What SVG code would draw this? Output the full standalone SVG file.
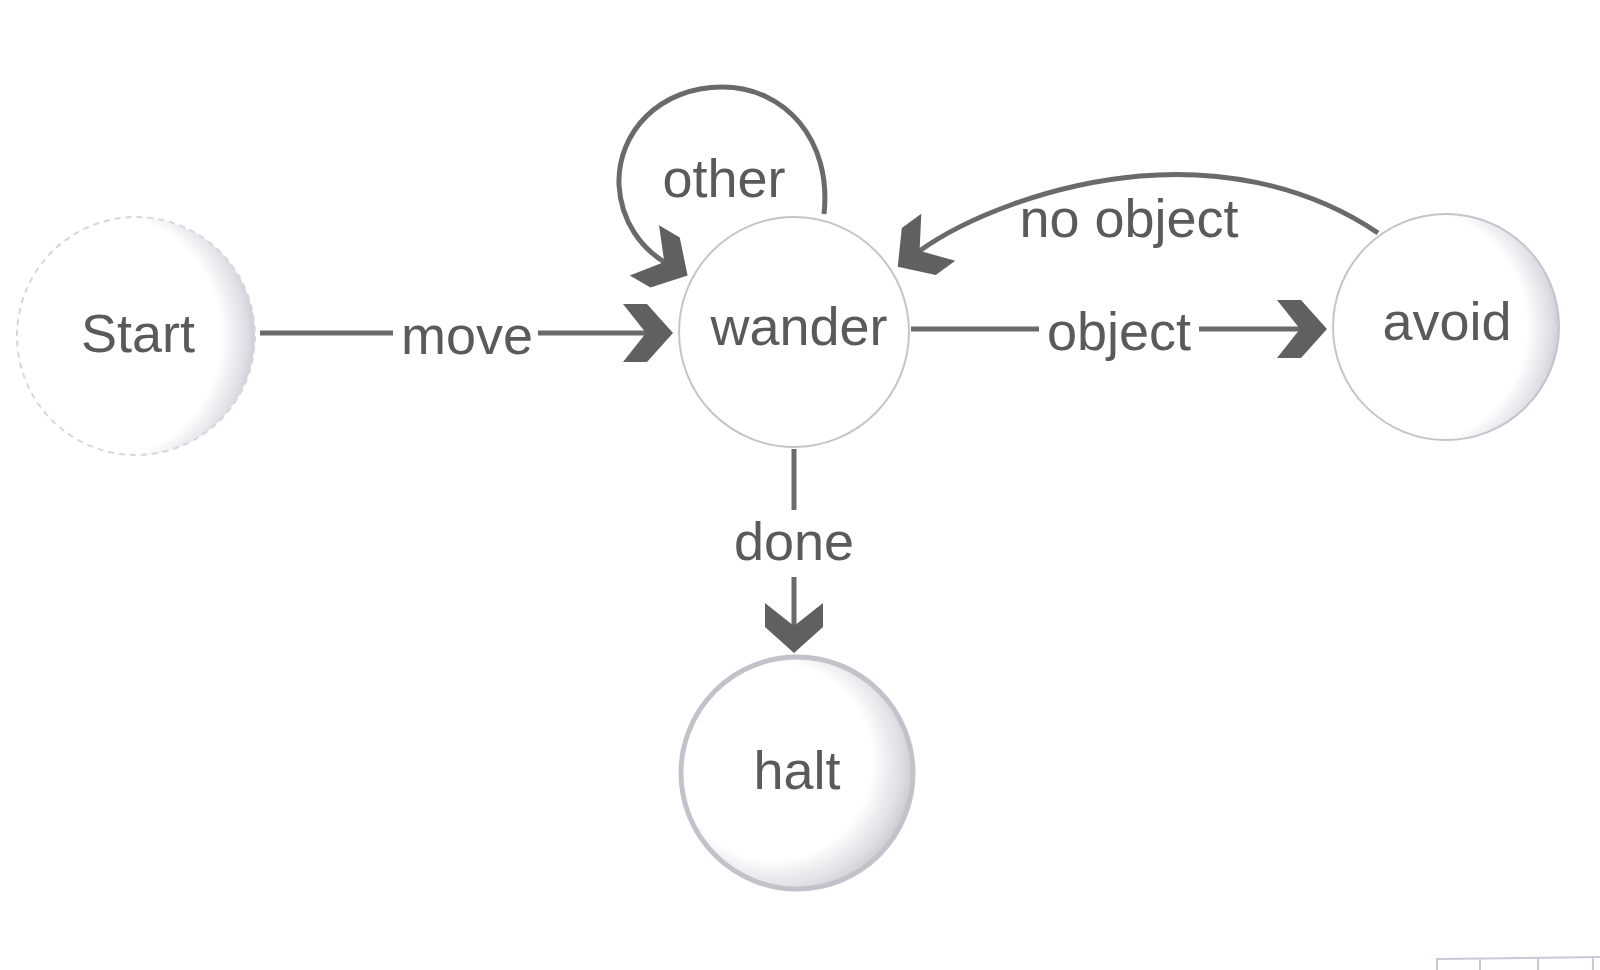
<svg xmlns="http://www.w3.org/2000/svg" width="1600" height="970" viewBox="0 0 1600 970">
<style>
.node{stroke:#c4c4cc;stroke-width:2}
.lbl{font-family:"Liberation Sans",Arial,sans-serif;font-size:54px;fill:#5a5a5a;text-anchor:middle}
.edge{fill:none;stroke:#6a6a6a;stroke-width:5;marker-end:url(#chev)}
</style>
<defs>
<marker id="chev" markerUnits="userSpaceOnUse" markerWidth="60" markerHeight="70" viewBox="-30 -35 60 70" refX="0" refY="0" orient="auto" overflow="visible">
<path d="M25,0 L-1,-29 L-25,-29 L-2,0 L-25,29 L-1,29 Z" fill="#606060"/>
</marker>
<radialGradient id="shadeR" cx="0.34" cy="0.5" r="0.7">
<stop offset="0" stop-color="#ffffff"/>
<stop offset="0.74" stop-color="#ffffff"/>
<stop offset="0.9" stop-color="#dcdce4"/>
<stop offset="1" stop-color="#b8b8c6"/>
</radialGradient>
<radialGradient id="shadeH" cx="0.4" cy="0.45" r="0.64">
<stop offset="0" stop-color="#ffffff"/>
<stop offset="0.66" stop-color="#ffffff"/>
<stop offset="0.86" stop-color="#dedee4"/>
<stop offset="1" stop-color="#c0c0c8"/>
</radialGradient>
</defs>
<rect width="1600" height="970" fill="#ffffff"/>
<g id="connectors">
<path id="e-move" class="edge" d="M260,333 L393,333 M538,333 L648,333"/>
<path id="e-object" class="edge" d="M911,329 L1039,329 M1199,329 L1302,329"/>
<path id="e-done" class="edge" d="M794,449 L794,510 M794,577 L794,628"/>
<path id="e-noobject" class="edge" d="M1378,233 C1300,180 1210,170 1140,176 C1050,184 965,218 918,252"/>
<path id="e-other" class="edge" d="M824,214 C832,140 785,87 722,87 C660,87 617,132 619,185 C621,222 642,249 666,263"/>
</g>
<g id="n-start">
<circle cx="136" cy="336" r="119" fill="url(#shadeR)" stroke="#d6d6de" stroke-width="2" stroke-dasharray="6 5"/>
<text class="lbl" x="138" y="352">Start</text>
</g>
<g id="n-wander">
<circle class="node" cx="794" cy="332" r="115" fill="#ffffff"/>
<text class="lbl" x="799" y="345">wander</text>
</g>
<g id="n-avoid">
<circle class="node" cx="1446" cy="327" r="113" fill="url(#shadeR)"/>
<text class="lbl" x="1447" y="340">avoid</text>
</g>
<g id="n-halt">
<circle cx="797" cy="773" r="116" fill="url(#shadeH)" stroke="#c2c2ca" stroke-width="5"/>
<text class="lbl" x="797" y="789">halt</text>
</g>
<g id="labels">
<text class="lbl" x="467" y="354">move</text>
<text class="lbl" x="724" y="197">other</text>
<text class="lbl" x="1129" y="237">no object</text>
<text class="lbl" x="1119" y="350">object</text>
<text class="lbl" x="794" y="560">done</text>
</g>
<g id="corner" fill="none" stroke="#c8c8d6" stroke-width="2">
<path d="M1437,970 L1437,959 L1600,957 M1480,958 L1480,970 M1538,958 L1538,970 M1593,957 L1593,970"/>
</g>
</svg>
